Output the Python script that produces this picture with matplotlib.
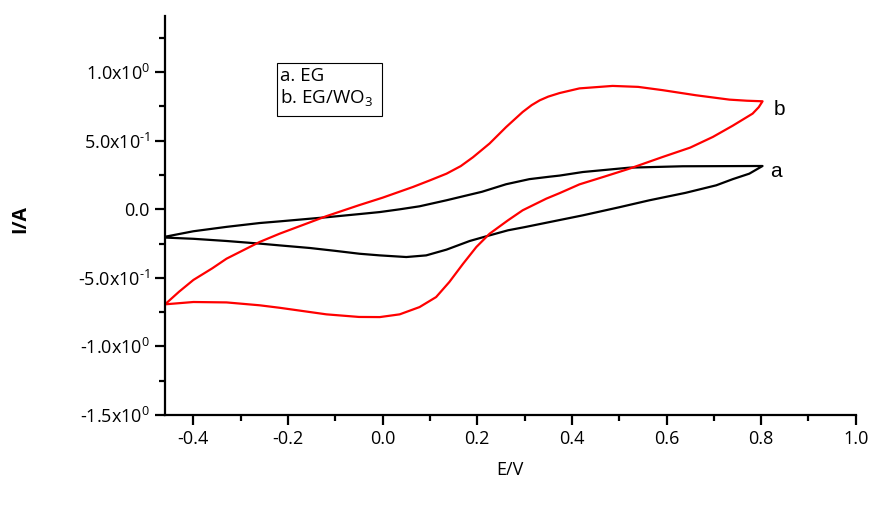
import matplotlib
matplotlib.use("Agg")
import matplotlib.pyplot as plt
from matplotlib.ticker import FixedLocator
from matplotlib.patches import Rectangle

plt.rcParams['font.family'] = ['Open Sans', 'DejaVu Sans']
plt.rcParams['mathtext.fontset'] = 'custom'
plt.rcParams['mathtext.rm'] = 'Open Sans'
plt.rcParams['mathtext.it'] = 'Open Sans'
plt.rcParams['mathtext.default'] = 'regular'

# Curve a (EG): forward sweep then return sweep
ea_x = [-0.46, -0.40, -0.33, -0.26, -0.218, -0.119, -0.05, -0.006, 0.036, 0.078,
        0.135, 0.17, 0.21, 0.261, 0.31, 0.353, 0.374, 0.423, 0.522, 0.634, 0.72, 0.803,
        0.79, 0.775, 0.74, 0.705, 0.64, 0.564, 0.50, 0.423, 0.35, 0.30, 0.265, 0.226,
        0.184, 0.135, 0.092, 0.05, -0.006, -0.049, -0.10, -0.154, -0.218, -0.26,
        -0.33, -0.40, -0.46]
ia_y = [-0.20, -0.16, -0.128, -0.10, -0.088, -0.058, -0.035, -0.02, 0.0, 0.022,
        0.066, 0.095, 0.128, 0.183, 0.22, 0.238, 0.246, 0.272, 0.304, 0.314, 0.315, 0.316,
        0.29, 0.26, 0.22, 0.175, 0.12, 0.066, 0.015, -0.044, -0.095, -0.13, -0.153, -0.19,
        -0.231, -0.294, -0.336, -0.348, -0.336, -0.324, -0.303, -0.282, -0.263, -0.25,
        -0.231, -0.215, -0.206]

# Curve b (EG/WO3): forward sweep then return sweep
eb_x = [-0.46, -0.43, -0.40, -0.36, -0.33, -0.26, -0.218, -0.119, -0.05, 0.0,
        0.064, 0.099, 0.135, 0.165, 0.191, 0.226, 0.261, 0.296, 0.315, 0.332, 0.35,
        0.374, 0.416, 0.486, 0.54, 0.592, 0.662, 0.733, 0.77, 0.803,
        0.795, 0.782, 0.74, 0.698, 0.65, 0.592, 0.522, 0.47, 0.416, 0.374, 0.346,
        0.296, 0.265, 0.226, 0.198, 0.17, 0.141, 0.113, 0.078, 0.036, -0.006,
        -0.05, -0.119, -0.218, -0.26, -0.33, -0.40, -0.46]
ib_y = [-0.693, -0.60, -0.515, -0.43, -0.36, -0.238, -0.178, -0.05, 0.03, 0.085,
        0.163, 0.21, 0.26, 0.315, 0.38, 0.48, 0.60, 0.71, 0.76, 0.795, 0.822,
        0.848, 0.882, 0.90, 0.893, 0.869, 0.832, 0.80, 0.792, 0.788,
        0.745, 0.698, 0.61, 0.528, 0.45, 0.382, 0.297, 0.24, 0.182, 0.118, 0.078,
        -0.007, -0.08, -0.178, -0.275, -0.397, -0.53, -0.64, -0.713, -0.766, -0.786,
        -0.785, -0.766, -0.718, -0.70, -0.679, -0.676, -0.693]

xticks = [-0.4, -0.2, 0.0, 0.2, 0.4, 0.6, 0.8, 1.0]
xticklabels = ['-0.4', '-0.2', '0.0', '0.2', '0.4', '0.6', '0.8', '1.0']
yticks = [-1.5, -1.0, -0.5, 0.0, 0.5, 1.0]
yticklabels = ['-1.5x10$^{0}$', '-1.0x10$^{0}$', r'-5.0x10$^{\text{-1}}$', '0.0',
               r'5.0x10$^{\text{-1}}$', '1.0x10$^{0}$']

fig = plt.figure(figsize=(8.75, 5.11), dpi=100)
ax = fig.add_axes([0.1886, 0.1879, 0.7894, 0.7808])

ax.plot(ea_x, ia_y, color='black', lw=1.6, solid_joinstyle='round')
ax.plot(eb_x, ib_y, color='#ff0000', lw=1.6, solid_joinstyle='round')

ax.set_xlim(-0.46, 1.0)
ax.set_ylim(-1.5, 1.41)

for s in ['top', 'right']:
    ax.spines[s].set_visible(False)
for s in ['left', 'bottom']:
    ax.spines[s].set_linewidth(1.6)

ax.xaxis.set_major_locator(FixedLocator(xticks))
ax.set_xticklabels(xticklabels)
ax.xaxis.set_minor_locator(FixedLocator([-0.3, -0.1, 0.1, 0.3, 0.5, 0.7, 0.9]))
ax.yaxis.set_major_locator(FixedLocator(yticks))
ax.set_yticklabels(yticklabels)
ax.yaxis.set_minor_locator(FixedLocator([-1.25, -0.75, -0.25, 0.25, 0.75, 1.25]))

ax.tick_params(which='major', direction='out', length=7, width=1.6, labelsize=13, pad=4)
ax.tick_params(which='minor', direction='out', length=4, width=1.6)

ax.set_xlabel('E/V', fontsize=13)
ax.xaxis.set_label_coords(0.5, -0.115)
ax.set_ylabel('I/A', fontsize=14, fontweight='bold')
ax.yaxis.set_label_coords(-0.195, 0.49)

ax.text(0.819, 0.236, 'a', fontsize=15, family='Liberation Sans', va='baseline', ha='left')
ax.text(0.826, 0.686, 'b', fontsize=15, family='Liberation Sans', va='baseline', ha='left')

ax.add_patch(Rectangle((-0.224, 0.679), 0.222, 0.387, fill=False, edgecolor='black', lw=0.8))
ax.text(-0.2175, 0.936, 'a. EG', fontsize=13.5, va='baseline', ha='left')
ax.text(-0.2175, 0.774, 'b. EG/WO$_3$', fontsize=13.5, va='baseline', ha='left')

fig.savefig('out.png', dpi=100)
